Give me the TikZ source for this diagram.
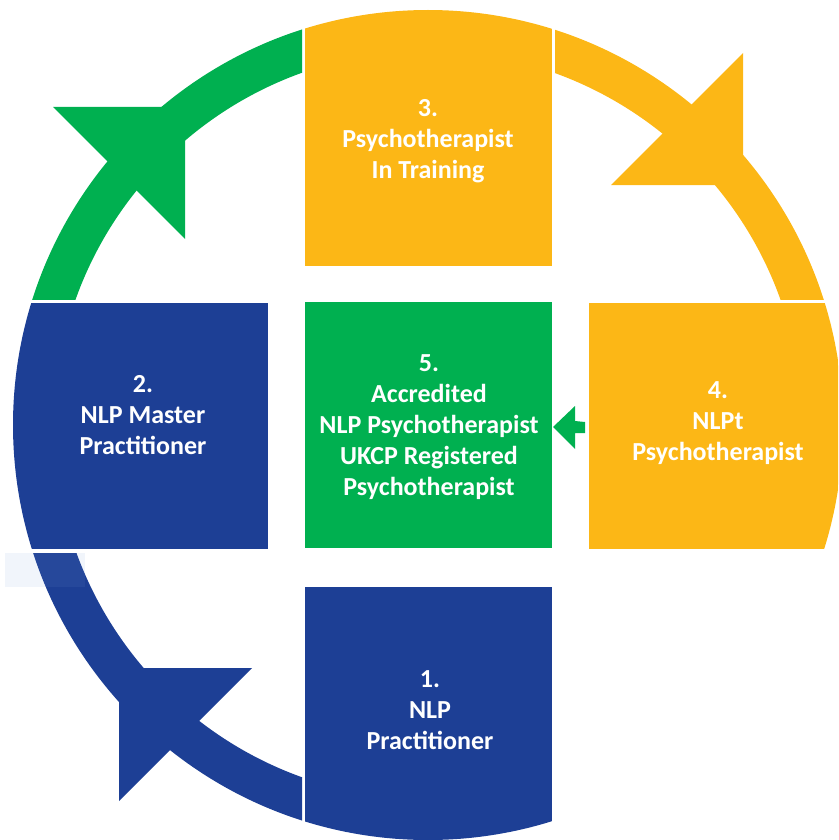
\documentclass[tikz,border=0pt]{standalone}
\usepackage{fontspec}
\setmainfont{Carlito}
\usetikzlibrary{calc}
\definecolor{nlpblue}{RGB}{29,63,149}
\definecolor{nlpgreen}{RGB}{0,176,80}
\definecolor{nlporange}{RGB}{252,183,22}
\definecolor{haze}{RGB}{118,159,215}

\begin{document}
\begin{tikzpicture}[x=1pt,y=-1pt,
  stage/.style={text=white, font=\fontsize{26}{31}\selectfont\bfseries,
    align=center, inner sep=0pt},
  panel/.style={anchor=north west, inner sep=0pt, outer sep=0pt},
  ring/.style={even odd rule},
]
\clip (0,0) rectangle (838,840);
\coordinate (O) at (428,425);

% ring segments, each cut out of the annulus by a rectangle
\begin{scope}
  \clip (0,0) rectangle (302,299);
  \fill[nlpgreen,ring] (O) circle[radius=415pt] (O) circle[radius=374pt];
\end{scope}
\begin{scope}
  \clip (555,0) rectangle (860,299);
  \fill[nlporange,ring] (O) circle[radius=415pt] (O) circle[radius=374pt];
\end{scope}
\begin{scope}
  \clip (0,553) rectangle (302,860);
  \fill[nlpblue,ring] (O) circle[radius=415pt] (O) circle[radius=374pt];
\end{scope}

% arrowheads sitting on the ring
\fill[nlpgreen]  (53,107)  -- (185,107) -- (185,239) -- cycle;
\fill[nlporange] (743,53)  -- (743,185) -- (611,185) -- cycle;
\fill[nlpblue]   (252,668) -- (119,668) -- (119,801) -- cycle;

% faint tinted patch at the lower left
\fill[haze,opacity=0.1] (5,553) rectangle (85,587);

% the five stage panels, trimmed to the outer circle
\begin{scope}
  \clip (O) circle[radius=415pt];
  \node[panel,fill=nlporange,minimum width=247pt,minimum height=266pt] (box3) at (305,0) {};
  \node[panel,fill=nlpblue,minimum width=268pt,minimum height=246pt] (box2) at (0,303) {};
  \node[panel,fill=nlpgreen,minimum width=247pt,minimum height=246pt] (box5) at (305,302) {};
  \node[panel,fill=nlporange,minimum width=260pt,minimum height=246pt] (box4) at (589,303) {};
  \node[panel,fill=nlpblue,minimum width=247pt,minimum height=260pt] (box1) at (305,587) {};
\end{scope}

% small block arrow from stage 4 into stage 5
\coordinate (tip) at ($(box5.east)+(1,2)$);
\fill[nlpgreen] (tip) -- ++(22,-21) -- ++(0,15) -- ($(box4.west)+(-4,-4)$)
  -- ($(box4.west)+(-4,7)$) -- ++(-10,0) -- ++(0,16) -- cycle;

% stage labels
\node[stage] (t3) at (428,141) {3.\\Psychotherapist\\In Training};
\node[stage] (t2) at (143,415) {2.\\NLP Master\\Practitioner};
\node[stage] (t5) at (429,427) {5.\\Accredited\\NLP Psychotherapist\\UKCP Registered\\Psychotherapist};
\node[stage] (t4) at (718,423) {4.\\NLPt\\Psychotherapist};
\node[stage] (t1) at (430,710) {1.\\NLP\\Practitioner};
\end{tikzpicture}
\end{document}
